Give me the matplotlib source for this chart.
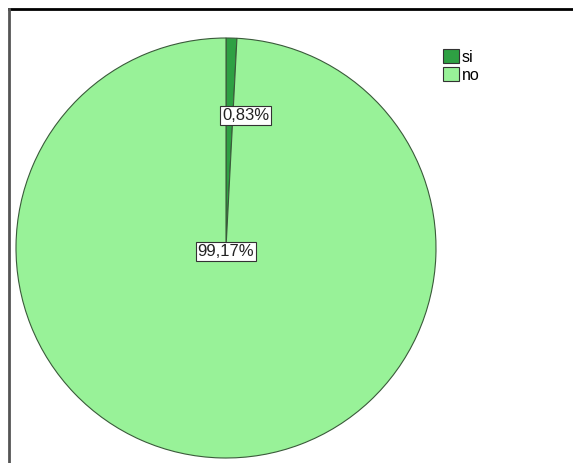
import numpy as np
import matplotlib.pyplot as plt
from matplotlib.lines import Line2D

plt.rcParams['font.family'] = ['Liberation Sans', 'DejaVu Sans']

categories = ['si', 'no']
shares = [0.83, 99.17]
colors = ['#2ea043', '#98f298']

W, H = 573, 463
fig = plt.figure(figsize=(W / 100, H / 100), dpi=100)
ax = fig.add_axes([0, 0, 1, 1])

cx, cy, r = 226, H - 248, 210
wedges, _ = ax.pie(shares, colors=colors, startangle=90, counterclock=False,
                   center=(cx, cy), radius=r, frame=True,
                   wedgeprops=dict(edgecolor='#3a5a3a', linewidth=0.8))
ax.set_xlim(0, W)
ax.set_ylim(0, H)
ax.set_aspect('equal')
ax.axis('off')

box = dict(boxstyle='square,pad=0.12', facecolor='white', edgecolor='#333333', linewidth=0.8)
# small slice label sits along its bisector, the large one near the centre
mid = np.deg2rad(90 - shares[0] / 100 * 360 / 2)
ax.text(cx + 0.63 * r * np.cos(mid) + 16, cy + 0.63 * r * np.sin(mid),
        f'{shares[0]:.2f}%'.replace('.', ','), ha='center', va='center',
        fontsize=12, color='#222222', bbox=box)
ax.text(cx, cy - 3, f'{shares[1]:.2f}%'.replace('.', ','), ha='center', va='center',
        fontsize=12, color='#222222', bbox=box)

leg = ax.legend(wedges, categories, loc='upper left', bbox_to_anchor=(432 / W, 1 - 38 / H),
                frameon=False, fontsize=11.5, handlelength=1.0, handleheight=1.0,
                handletextpad=0.15, labelspacing=0.15, borderpad=0.2)
for h in leg.legend_handles:
    h.set_edgecolor('#333333')

# outer frame: only top and left edges
fig.add_artist(Line2D([8.5 / W, 1], [1 - 9 / H, 1 - 9 / H], transform=fig.transFigure,
                      color='black', linewidth=2))
fig.add_artist(Line2D([8.5 / W, 8.5 / W], [0, 1 - 9 / H], transform=fig.transFigure,
                      color='#555555', linewidth=2))

fig.savefig('out.png', dpi=100)
